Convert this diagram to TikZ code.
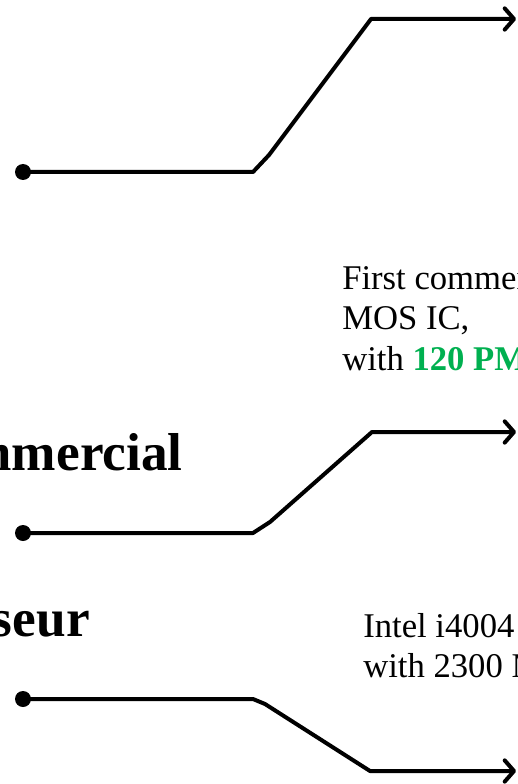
\documentclass[tikz,border=0pt]{standalone}
\usepackage{fontspec}
\setmainfont{Liberation Serif}
\usetikzlibrary{arrows.meta}
\definecolor{pmosgreen}{HTML}{00B050}

\begin{document}
\begin{tikzpicture}[
    x=0.75pt, y=-0.75pt,
    wire/.style={black, line width=3pt, line join=round,
                 -{Straight Barb[length=7pt, width=16pt, round]}},
    dot/.style={circle, fill=black, inner sep=0pt, minimum size=12pt},
    note/.style={font=\fontsize{26}{30}\selectfont, inner sep=0pt},
    head/.style={font=\fontsize{40}{48}\selectfont\bfseries, inner sep=0pt}
]

% ---------- frame ----------
\useasboundingbox (0,0) rectangle (517,784);
\clip (0,0) rectangle (517,784);

% ---------- start dots ----------
\node[dot] (s1) at (23,172) {};
\node[dot] (s2) at (23,533) {};
\node[dot] (s3) at (23,699) {};

% ---------- arrow ends ----------
\coordinate (e1) at (516,19);
\coordinate (e2) at (516,432);
\coordinate (e3) at (516,771);

% ---------- connectors ----------
\draw[wire] (s1.center) -- (253,172) -- (269,155) -- (371,19) -- (e1);
\draw[wire] (s2.center) -- (253,533) -- (270,522) -- (372,432) -- (e2);
\draw[wire] (s3.center) -- (253,699) -- (265,704) -- (370,771) -- (e3);

% ---------- headings ----------
\node[head, anchor=base east] (h1) at (183,470) {mmercial};
\node[head, anchor=base east] (h2) at (90,636) {seur};

% ---------- notes ----------
\node[note, anchor=base west] (n1) at (342,289) {First commer};
\node[note, anchor=base west] (n2) at (342,329) {MOS IC,};
\node[note, anchor=base west] (n3) at (342,370)
      {with \textcolor{pmosgreen}{\textbf{120 PM}}};
\node[note, anchor=base west] (n4) at (363,637) {Intel i4004};
\node[note, anchor=base west] (n5) at (363,677) {with 2300 M};

\end{tikzpicture}
\end{document}
